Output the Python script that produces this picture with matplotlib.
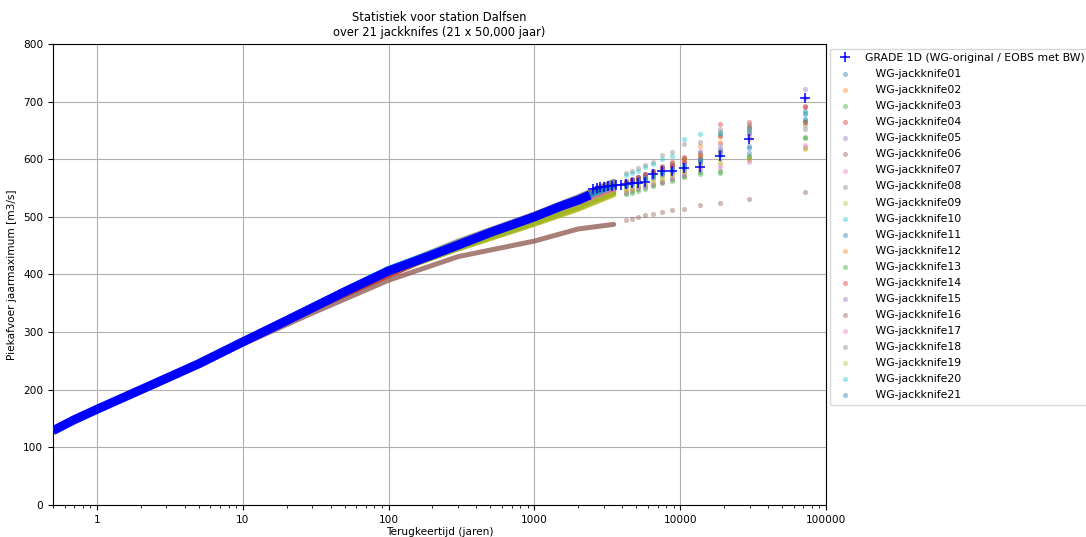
import numpy as np
import matplotlib
matplotlib.use("Agg")
import matplotlib.pyplot as plt
from matplotlib.ticker import FuncFormatter, LogLocator

# GRADE 1D reference run: dense part (band of markers) and the upper tail
T_grade = [0.5, 0.7, 1, 2, 3, 5, 10, 20, 30, 50, 100, 200, 300, 500, 1000, 1500, 2000, 2400]
Q_grade = [129, 148, 166, 200, 220, 245, 283, 320, 342, 370, 406, 434, 451, 473, 500, 518, 529, 538]

T_grade_tail = [71400, 29600, 18700, 13600, 10700, 8770, 7460, 6490, 5750, 5160,
                4670, 4270, 3940, 3650, 3400, 3180, 2990, 2830, 2670, 2540]
Q_grade_tail = [707, 635, 605, 586, 585, 580, 579, 575, 560, 559,
                558, 557, 556, 555, 554, 553, 552, 551, 550, 548]

# jackknife runs: dense part on a common grid, tail on the highest ranks
T_jk = [0.5, 1, 3, 10, 30, 100, 300, 1000, 2000, 3500]
T_jk_tail = [71400, 29600, 18700, 13600, 10700, 8770, 7460, 6490, 5750, 5160, 4670, 4270]

jk01 = [129, 166, 220, 283, 343, 406, 452, 502, 532, 552]
jk02 = [128, 165, 218, 281, 340, 403, 448, 495, 522, 545]
jk03 = [129, 166, 219, 282, 340, 402, 445, 488, 515, 540]
jk04 = [128, 165, 218, 281, 339, 398, 450, 497, 525, 548]
jk05 = [130, 167, 221, 284, 343, 407, 453, 503, 533, 560]
jk06 = [128, 164, 216, 279, 333, 390, 431, 458, 479, 487]
jk07 = [129, 166, 220, 283, 342, 405, 450, 496, 523, 545]
jk08 = [131, 168, 222, 286, 346, 409, 458, 505, 535, 562]
jk09 = [129, 165, 219, 282, 340, 402, 444, 487, 513, 538]
jk10 = [130, 167, 221, 285, 346, 411, 455, 500, 528, 552]
jk11 = [129, 166, 220, 283, 342, 405, 451, 500, 530, 553]
jk12 = [128, 165, 219, 282, 341, 404, 449, 497, 526, 550]
jk13 = [129, 166, 219, 282, 341, 403, 446, 490, 518, 542]
jk14 = [128, 165, 218, 281, 340, 399, 449, 498, 527, 550]
jk15 = [130, 167, 221, 284, 343, 406, 452, 502, 531, 556]
jk16 = [129, 166, 220, 283, 342, 405, 451, 501, 532, 556]
jk17 = [129, 166, 220, 283, 342, 405, 450, 497, 524, 547]
jk18 = [130, 167, 221, 285, 345, 408, 456, 504, 534, 560]
jk19 = [129, 165, 219, 282, 341, 402, 445, 489, 516, 540]
jk20 = [130, 167, 221, 284, 345, 410, 454, 501, 529, 553]
jk21 = [129, 166, 220, 283, 342, 406, 451, 501, 531, 554]

jk01_tail = [683, 623, 616, 600, 592, 585, 578, 574, 568, 565, 562, 558]
jk02_tail = [665, 645, 641, 623, 600, 590, 584, 577, 572, 566, 560, 556]
jk03_tail = [638, 606, 576, 575, 569, 563, 558, 553, 548, 545, 542, 540]
jk04_tail = [693, 664, 661, 607, 604, 596, 588, 580, 575, 570, 566, 562]
jk05_tail = [722, 645, 627, 615, 595, 590, 584, 578, 574, 570, 566, 563]
jk06_tail = [543, 531, 524, 521, 514, 512, 508, 505, 503, 500, 497, 495]
jk07_tail = [625, 598, 585, 582, 575, 568, 563, 558, 555, 552, 549, 546]
jk08_tail = [660, 656, 652, 630, 626, 613, 607, 596, 590, 584, 580, 576]
jk09_tail = [619, 600, 599, 590, 580, 575, 570, 565, 560, 556, 552, 548]
jk10_tail = [668, 648, 646, 644, 635, 605, 600, 592, 586, 580, 576, 572]
jk11_tail = [679, 620, 612, 598, 590, 584, 578, 572, 568, 564, 560, 556]
jk12_tail = [665, 635, 630, 605, 598, 588, 582, 576, 571, 566, 562, 558]
jk13_tail = [636, 604, 580, 578, 571, 565, 560, 556, 552, 548, 545, 542]
jk14_tail = [690, 655, 640, 603, 596, 588, 582, 576, 570, 566, 562, 558]
jk15_tail = [707, 640, 620, 597, 594, 587, 582, 576, 571, 567, 563, 560]
jk16_tail = [665, 660, 612, 610, 603, 594, 586, 580, 574, 569, 565, 561]
jk17_tail = [622, 596, 590, 585, 573, 567, 561, 557, 553, 550, 547, 544]
jk18_tail = [652, 650, 648, 596, 583, 578, 573, 568, 564, 560, 557, 553]
jk19_tail = [618, 602, 594, 588, 578, 572, 566, 561, 557, 553, 549, 546]
jk20_tail = [680, 652, 644, 600, 588, 582, 577, 572, 567, 563, 559, 555]
jk21_tail = [670, 610, 608, 595, 585, 580, 575, 570, 565, 561, 557, 553]

jk_dense = [jk01, jk02, jk03, jk04, jk05, jk06, jk07, jk08, jk09, jk10, jk11,
            jk12, jk13, jk14, jk15, jk16, jk17, jk18, jk19, jk20, jk21]
jk_tail = [jk01_tail, jk02_tail, jk03_tail, jk04_tail, jk05_tail, jk06_tail, jk07_tail,
           jk08_tail, jk09_tail, jk10_tail, jk11_tail, jk12_tail, jk13_tail, jk14_tail,
           jk15_tail, jk16_tail, jk17_tail, jk18_tail, jk19_tail, jk20_tail, jk21_tail]
jk_labels = ["   WG-jackknife%02d" % (i + 1) for i in range(21)]

fs = 7.6
fig = plt.figure(figsize=(10.86, 5.37), dpi=100)
ax = fig.add_axes([0.0488, 0.0596, 0.7118, 0.8585])

colors = plt.get_cmap("tab10").colors
handles = []
for i in range(21):
    c = colors[i % 10]
    ax.plot(T_jk, jk_dense[i], color=c, lw=3.6, alpha=0.75, solid_capstyle="round", zorder=2)
    h = ax.scatter(T_jk_tail, jk_tail[i], s=14, color=c, alpha=0.4, lw=0,
                   label=jk_labels[i], zorder=2)
    handles.append(h)

ax.plot(T_grade, Q_grade, color="blue", lw=6.5, solid_capstyle="butt", zorder=3)
hg, = ax.plot(T_grade_tail, Q_grade_tail, "+", color="blue", ms=7.5, mew=1.1,
              label="GRADE 1D (WG-original / EOBS met BW)", zorder=3)

ax.set_xscale("log")
ax.set_xlim(0.5, 1e5)
ax.set_ylim(0, 800)
ax.xaxis.set_major_locator(LogLocator(base=10))
ax.xaxis.set_major_formatter(FuncFormatter(lambda v, p: "%d" % v if v >= 1 else ""))
ax.grid(True, which="major", color="#b0b0b0", lw=0.8)
ax.tick_params(labelsize=fs)
ax.set_xlabel("Terugkeertijd (jaren)", fontsize=fs, labelpad=1.5)
ax.set_ylabel("Piekafvoer jaarmaximum [m3/s]", fontsize=fs)
ax.set_title("Statistiek voor station Dalfsen\nover 21 jackknifes (21 x 50,000 jaar)", fontsize=8.3)

ax.legend([hg] + handles, [hg.get_label()] + jk_labels, loc="upper left",
          bbox_to_anchor=(1.005, 0.99), fontsize=7.8, labelspacing=0.56,
          scatterpoints=1, borderaxespad=0.0)

fig.savefig("out.png", dpi=100)
